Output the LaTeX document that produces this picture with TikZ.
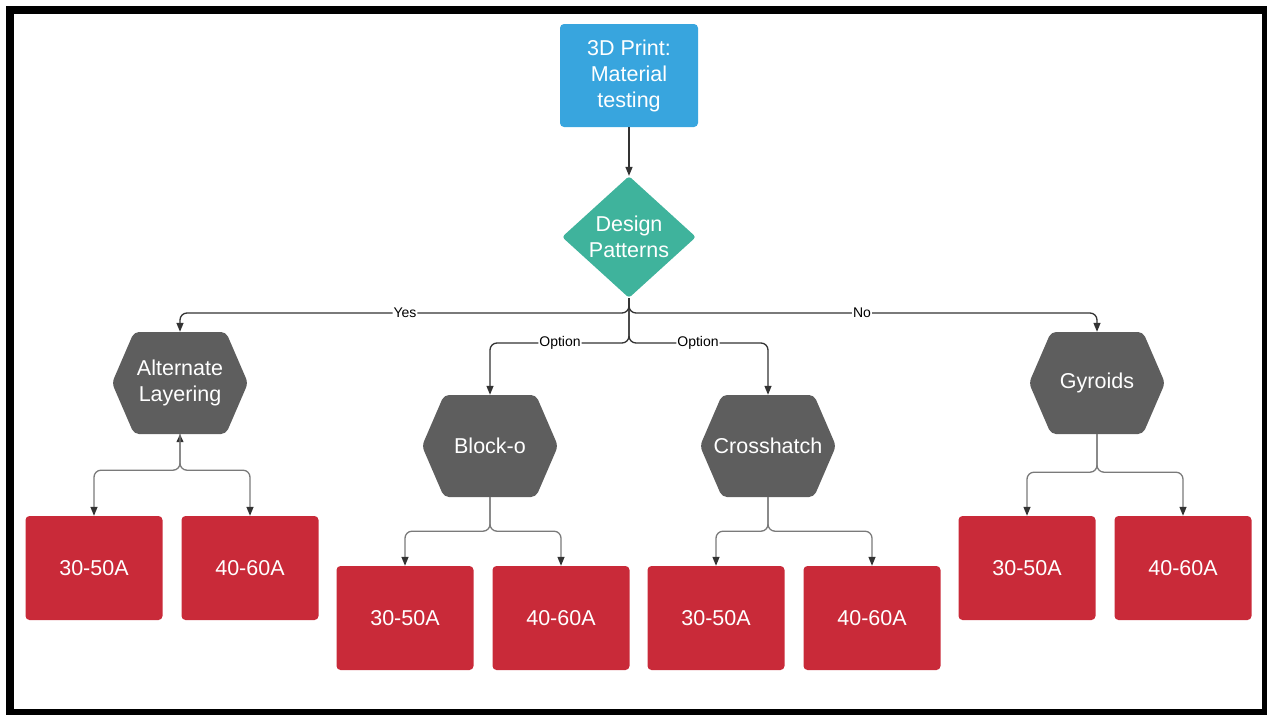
\documentclass[tikz,border=0pt]{standalone}
\usepackage{fontspec}
\setmainfont{Liberation Sans}
\usetikzlibrary{shapes.geometric,arrows.meta}
\definecolor{pblue}{HTML}{38A5DE}
\definecolor{pteal}{HTML}{3FB39C}
\definecolor{pgray}{HTML}{5E5E5E}
\definecolor{pred}{HTML}{C92A39}
\definecolor{cdark}{HTML}{333333}
\definecolor{clight}{HTML}{7A7A7A}
\newcommand\hexat[4]{%
  \fill[pgray, rounded corners=5pt] (#2,#3) ++(-68,0) -- ++(22,-51) -- ++(92,0) -- ++(22,51) -- ++(-22,51) -- ++(-92,0) -- cycle;
  \node[hexn] (#1) at (#2,#3) {#4};}
\begin{document}
\begin{tikzpicture}[x=1pt,y=-1pt,
  txt/.style={text=white, font=\fontsize{21.5}{26}\selectfont, align=center},
  topbox/.style={txt, fill=pblue, rounded corners=4pt, minimum width=138, minimum height=103, inner sep=0},
  decis/.style={txt, diamond, fill=pteal, rounded corners=3pt, minimum width=134, minimum height=117, inner sep=0},
  hexn/.style={txt, minimum width=136, minimum height=102, inner sep=0},
  redbox/.style={txt, fill=pred, rounded corners=4pt, minimum width=137, minimum height=104, inner sep=0},
  conn/.style={draw=cdark, line width=1.3pt, rounded corners=7pt, -{Triangle[length=9pt,width=7pt]}},
  conn2/.style={draw=clight, line width=1.3pt, rounded corners=7pt, -{Triangle[length=9pt,width=7pt,color=cdark]}},
  lab/.style={fill=white, text=black, font=\fontsize{14}{16}\selectfont, inner sep=1pt}]
\useasboundingbox (0,0) rectangle (1267,715);
\draw[line width=8pt] (10,10) rectangle (1266,713);

\node[topbox] (top) at (629,75.5) {3D Print:\\Material\\testing};
\node[decis] (dp) at (629,237) {Design\\Patterns};

\hexat{alt}{180}{383}{Alternate\\Layering}
\hexat{blk}{490}{446}{Block-o}
\hexat{crs}{768}{446}{Crosshatch}
\hexat{gyr}{1097}{383}{Gyroids}

\node[redbox] (a1) at (94,568) {30-50A};
\node[redbox] (a2) at (250,568) {40-60A};
\node[redbox] (b1) at (405,618) {30-50A};
\node[redbox] (b2) at (561,618) {40-60A};
\node[redbox] (c1) at (716,618) {30-50A};
\node[redbox] (c2) at (872,618) {40-60A};
\node[redbox] (g1) at (1027,568) {30-50A};
\node[redbox] (g2) at (1183,568) {40-60A};

\draw[conn] (top.south) -- (dp.north);
\draw[conn] (dp.south) |- (405,313) node[lab] {Yes} -| (alt.north);
\draw[conn] (dp.south) |- (862,313) node[lab] {No} -| (gyr.north);
\draw[conn] (dp.south) |- (560,343) node[lab] {Option} -| (blk.north);
\draw[conn] (dp.south) |- (698,343) node[lab] {Option} -| (crs.north);

\draw[conn2, {Triangle[length=8pt,width=7pt,color=cdark]}-{Triangle[length=9pt,width=7pt,color=cdark]}] (alt.south) -- ++(0,36) -| (a1.north);
\draw[conn2] (alt.south) -- ++(0,36) -| (a2.north);
\draw[conn2] (blk.south) -- ++(0,34) -| (b1.north);
\draw[conn2] (blk.south) -- ++(0,34) -| (b2.north);
\draw[conn2] (crs.south) -- ++(0,34) -| (c1.north);
\draw[conn2] (crs.south) -- ++(0,34) -| (c2.north);
\draw[conn2] (gyr.south) -- ++(0,38) -| (g1.north);
\draw[conn2] (gyr.south) -- ++(0,38) -| (g2.north);
\end{tikzpicture}
\end{document}
